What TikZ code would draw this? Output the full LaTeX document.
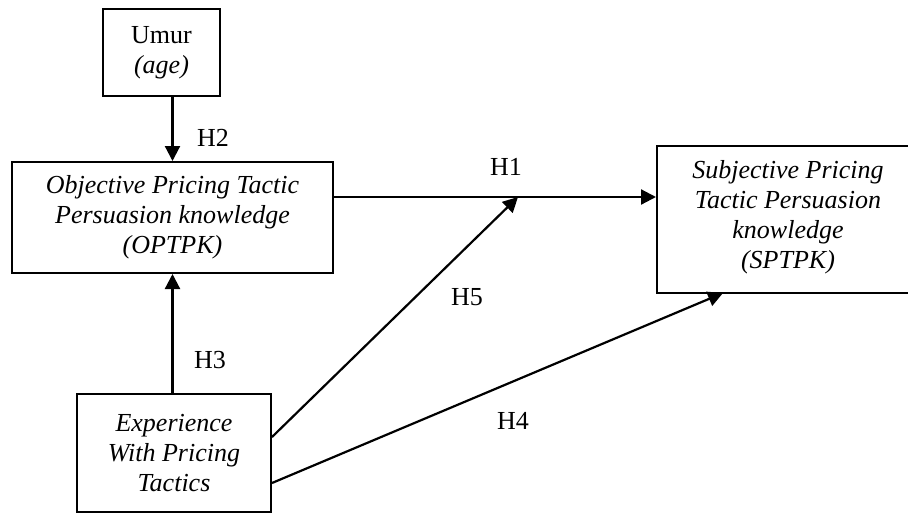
\documentclass[tikz,border=0pt]{standalone}
\usepackage{fontspec}
\setmainfont{Liberation Serif}
\usetikzlibrary{arrows.meta}
\tikzset{
  box/.style={draw, line width=2pt, align=center, inner sep=0pt, font=\fontsize{26}{30}\selectfont},
  arr/.style={line width=2.2pt, -{Triangle[length=15pt,width=15pt]}},
  hlab/.style={font=\fontsize{26}{30}\selectfont, inner sep=0pt}
}
\begin{document}
\begin{tikzpicture}[x=1pt,y=-1pt]
\useasboundingbox (0,0) rectangle (908,514);
\node[box, minimum width=117pt, minimum height=87pt] (umur) at (161.5,52.5) {Umur\\\textit{(age)}};
\node[box, minimum width=321pt, minimum height=111pt] (optpk) at (172.5,217.5) {\textit{Objective Pricing Tactic}\\\textit{Persuasion knowledge}\\\textit{(OPTPK)}};
\node[box, minimum width=256pt, minimum height=147pt] (sptpk) at (785,219.5) {};
\node[align=center, inner sep=0pt, font=\fontsize{26}{30}\selectfont] (sptxt) at (788,217) {\textit{Subjective Pricing}\\\textit{Tactic Persuasion}\\\textit{knowledge}\\\textit{(SPTPK)}};
\node[box, minimum width=194pt, minimum height=118pt] (exp) at (174,453) {\textit{Experience}\\\textit{With Pricing}\\\textit{Tactics}};
\coordinate (h1tip) at (518,197);
\coordinate (h4tip) at (723,293);
% H2
\draw[arr] (umur.south -| optpk.north) -- (optpk.north);
% H3
\draw[arr] (exp.north -| optpk.south) -- (optpk.south);
% H1
\draw[arr] (optpk.east |- h1tip) -- (sptpk.west |- h1tip);
% H5
\draw[arr] (exp.east |- 0,437) -- (h1tip);
% H4
\draw[arr] (exp.east |- 0,483) -- (h4tip);
\node[hlab] (lh2) at (213,138) {H2};
\node[hlab] (lh1) at (506,167) {H1};
\node[hlab] (lh5) at (467,297) {H5};
\node[hlab] (lh3) at (210,360) {H3};
\node[hlab] (lh4) at (513,421) {H4};
\end{tikzpicture}
\end{document}
